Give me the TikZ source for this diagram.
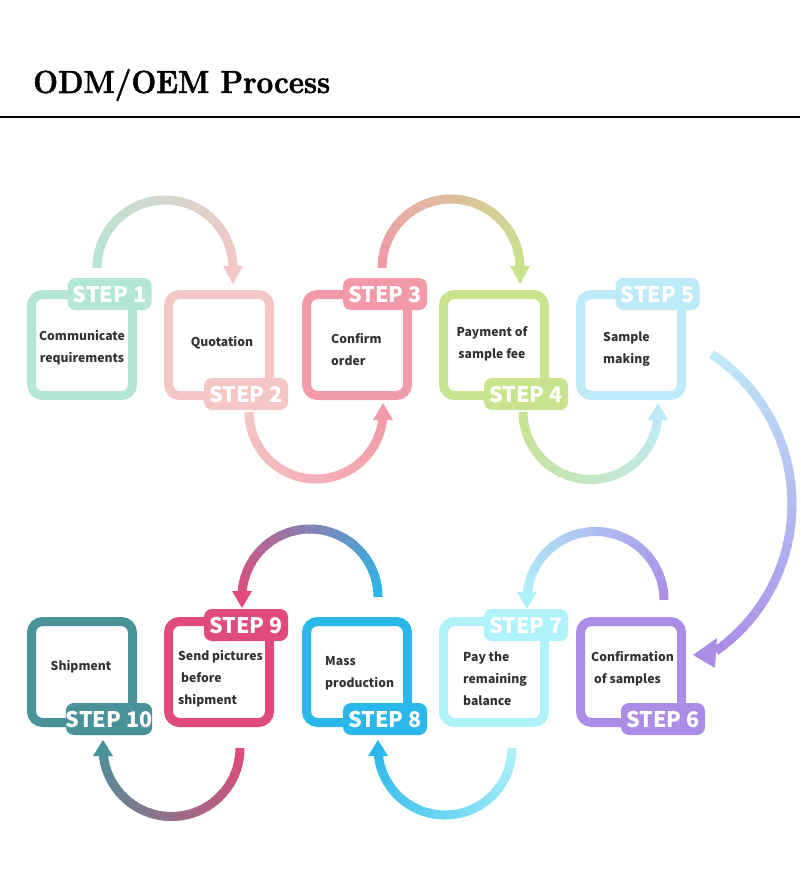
\documentclass[tikz,border=0pt]{standalone}
\usepackage{fontspec}
\newfontfamily\cjkf{Noto Sans CJK SC}
\newfontfamily\titlef{Latin Modern Roman}[FakeBold=1.6, FakeStretch=0.92]
\definecolor{c1}{HTML}{B3E6D5}
\definecolor{c2}{HTML}{F5C6C6}
\definecolor{c3}{HTML}{F29AA8}
\definecolor{c4}{HTML}{C9E48F}
\definecolor{c5}{HTML}{BDEAF9}
\definecolor{c6}{HTML}{AB8DE8}
\definecolor{c7}{HTML}{B0F2FB}
\definecolor{c8}{HTML}{2AB7EA}
\definecolor{c9}{HTML}{E04B7B}
\definecolor{c10}{HTML}{4A929A}
\definecolor{txt}{HTML}{333333}
\newcommand{\garc}[7]{%
  \foreach \i in {0,...,39}{%
    \pgfmathsetmacro{\sa}{#4+(#5-#4)*\i/40}%
    \pgfmathsetmacro{\ea}{#4+(#5-#4)*(\i+1.3)/40}%
    \pgfmathtruncatemacro{\pc}{100*\i/39}%
    \draw[arcline, draw=#7!\pc!#6] (#1,#2) ++(\sa:#3) arc[start angle=\sa, end angle=\ea, radius=#3];
  }}
\begin{document}
\begin{tikzpicture}[x=1pt,y=-1pt,
  box/.style={draw, line width=9pt, rounded corners=11pt, fill=white, minimum width=101pt, minimum height=101pt, inner sep=0pt},
  tab/.style={rounded corners=8pt, minimum width=84pt, minimum height=32pt, inner sep=0pt, text=white, font=\cjkf\bfseries\fontsize{21.5}{21.5}\selectfont},
  lbl/.style={text=txt, font=\cjkf\bfseries\fontsize{12.2}{22}\selectfont, inner sep=0pt},
  arcline/.style={line width=9pt, line cap=butt}]
\useasboundingbox (0,0) rectangle (800,872);
% title
\node[anchor=base west, inner sep=0pt, font=\titlef\bfseries\fontsize{32}{38}\selectfont] (title) at (33,93) {ODM/OEM Process};
\coordinate (hl) at (0,117);
\coordinate (hr) at (800,117);
\draw[line width=1.2pt] (hl) -- (hr);
% arcs
\garc{165}{268}{68}{180}{360}{c1}{c2}
\fill[c2] (223,266) -- (243,266) -- (233,284) -- cycle;
\garc{316}{412}{67}{180}{0}{c2}{c3}
\fill[c3] (373,420) -- (393,420) -- (383,403) -- cycle;
\garc{451}{268}{69}{180}{360}{c3}{c4}
\fill[c4] (510,266) -- (530,266) -- (520,284) -- cycle;
\garc{590.5}{412}{67.5}{180}{0}{c4}{c5}
\fill[c5] (648,420) -- (668,420) -- (658,403) -- cycle;
\garc{612}{504}{180}{-56.4}{54}{c5}{c6}
\fill[c6] (693,655) -- (717,638) -- (715,668) -- cycle;
\garc{595.5}{600}{68.5}{360}{180}{c6}{c7}
\fill[c7] (517,592) -- (537,592) -- (527,609) -- cycle;
\garc{445}{748}{67}{0}{180}{c7}{c8}
\fill[c8] (368,756) -- (388,756) -- (378,740) -- cycle;
\garc{310}{597}{68}{360}{180}{c8}{c9}
\fill[c9] (232,591) -- (252,591) -- (242,608) -- cycle;
\garc{171.5}{748}{68.5}{0}{180}{c9}{c10}
\fill[c10] (93,756) -- (113,756) -- (103,740) -- cycle;
% boxes
\node[box, draw=c1] (b1) at (82,345) {};
\node[box, draw=c2] (b2) at (219,345) {};
\node[box, draw=c3] (b3) at (357,345) {};
\node[box, draw=c4] (b4) at (494,345) {};
\node[box, draw=c5] (b5) at (631,345) {};
\node[box, draw=c6] (b6) at (631,672) {};
\node[box, draw=c7] (b7) at (494,672) {};
\node[box, draw=c8] (b8) at (357,672) {};
\node[box, draw=c9] (b9) at (219,672) {};
\node[box, draw=c10] (b10) at (82,672) {};
% tabs
\node[tab, fill=c1] (s1) at (109.5,294) {STEP 1};
\node[tab, fill=c2] (s2) at (246,394) {STEP 2};
\node[tab, fill=c3] (s3) at (385,294) {STEP 3};
\node[tab, fill=c4] (s4) at (526,394) {STEP 4};
\node[tab, fill=c5] (s5) at (657.5,294) {STEP 5};
\node[tab, fill=c6] (s6) at (663,719) {STEP 6};
\node[tab, fill=c7] (s7) at (526,625) {STEP 7};
\node[tab, fill=c8] (s8) at (385,719) {STEP 8};
\node[tab, fill=c9] (s9) at (246,625) {STEP 9};
\node[tab, fill=c10] (s10) at (109,719) {STEP 10};
% texts
\node[lbl, align=center] (t1) at (82,348) {Communicate\\requirements};
\node[lbl, align=center] (t2) at (222,343) {Quotation};
\node[lbl, align=left, anchor=west] (t3) at (331,350) {Confirm\\order};
\node[lbl, align=center] (t4) at (492,344) {Payment of\\sample fee};
\node[lbl, align=left, anchor=west] (t5) at (603,349) {Sample\\making};
\node[lbl, align=left, anchor=west] (t6) at (591,669) {Confirmation\\\hspace{3pt}of samples};
\node[lbl, align=left, anchor=west] (t7) at (463,679) {Pay the\\remaining\\balance};
\node[lbl, align=left, anchor=west] (t8) at (325,673) {Mass\\production};
\node[lbl, align=left, anchor=west] (t9) at (178,679) {Send pictures\\\hspace{3pt}before\\shipment};
\node[lbl, align=center] (t10) at (81,667) {Shipment};
\end{tikzpicture}
\end{document}
